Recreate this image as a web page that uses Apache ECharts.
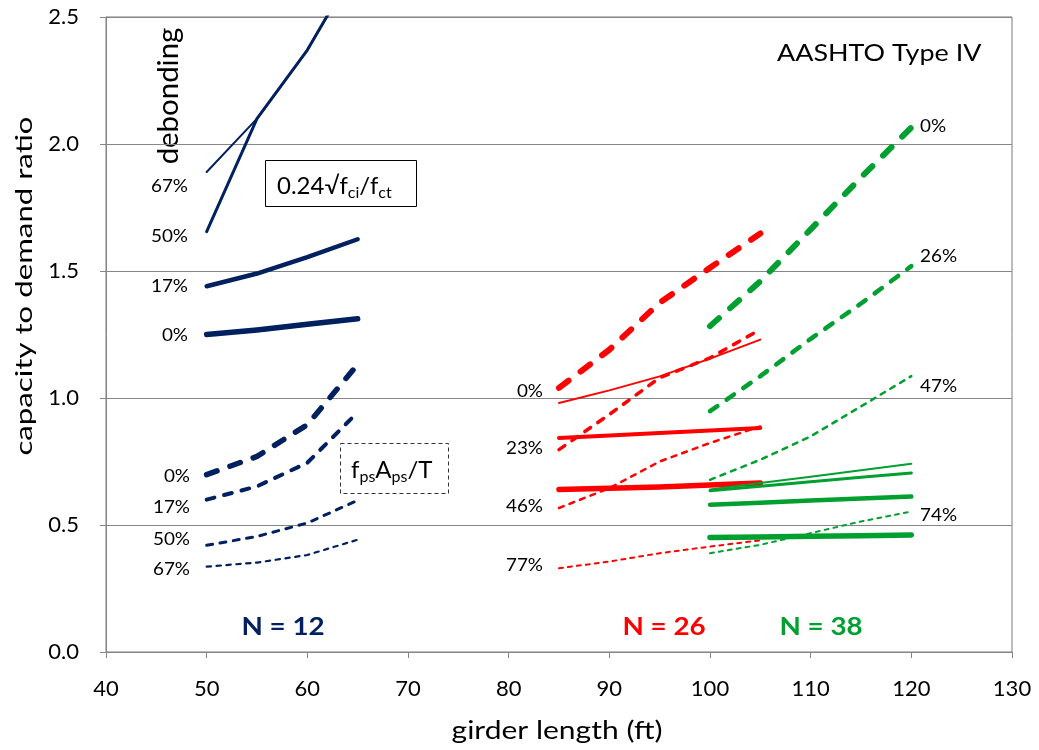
<!DOCTYPE html>
<html>
<head>
<meta charset="utf-8">
<title>capacity to demand ratio - AASHTO Type IV</title>
<script src="https://cdn.jsdelivr.net/npm/echarts@6/dist/echarts.min.js"></script>
<style>
  html, body { margin: 0; padding: 0; background: #fff; }
  #chart { width: 1039px; height: 750px; }
</style>
</head>
<body>
<div id="chart"></div>
<script>
// girder lengths (ft) of each group
const lenN12 = [50, 55, 60, 65];
const lenN26 = [85, 90, 95, 100, 105];
const lenN38 = [100, 105, 110, 115, 120];

// N = 12 : 0.24√fci/fct (solid), by debonding
const n12Stress67 = [1.89, 2.10, 2.37, 2.71];
const n12Stress50 = [1.655, 2.10, 2.37, 2.71];
const n12Stress17 = [1.44, 1.49, 1.555, 1.625];
const n12Stress0 = [1.25, 1.268, 1.29, 1.312];
// N = 12 : fpsAps/T (dashed)
const n12Tens0 = [0.698, 0.77, 0.895, 1.132];
const n12Tens17 = [0.60, 0.652, 0.745, 0.944];
const n12Tens50 = [0.42, 0.455, 0.508, 0.597];
const n12Tens67 = [0.336, 0.352, 0.382, 0.442];

// N = 26
const n26Stress46 = [0.98, 1.03, 1.085, 1.155, 1.23];
const n26Stress23 = [0.843, 0.852, 0.862, 0.872, 0.882];
const n26Stress0 = [0.64, 0.645, 0.65, 0.657, 0.665];
const n26Tens0 = [1.04, 1.19, 1.375, 1.513, 1.648];
const n26Tens23 = [0.797, 0.935, 1.08, 1.158, 1.27];
const n26Tens46 = [0.567, 0.645, 0.75, 0.823, 0.888];
const n26Tens77 = [0.33, 0.356, 0.389, 0.415, 0.44];

// N = 38
const n38Stress74 = [0.64, 0.665, 0.69, 0.716, 0.741];
const n38Stress47 = [0.635, 0.653, 0.67, 0.688, 0.705];
const n38Stress26 = [0.58, 0.588, 0.596, 0.604, 0.612];
const n38Stress0 = [0.451, 0.453, 0.456, 0.458, 0.461];
const n38Tens0 = [1.283, 1.46, 1.664, 1.868, 2.065];
const n38Tens26 = [0.948, 1.086, 1.233, 1.372, 1.519];
const n38Tens47 = [0.678, 0.757, 0.849, 0.967, 1.086];
const n38Tens74 = [0.389, 0.422, 0.468, 0.514, 0.553];

// axis ticks
const xTicks = { min: 40, max: 130, step: 10 };
const yTicks = { min: 0, max: 2.5, step: 0.5 };

// text labels
const pctNavyTop = ['67%', '50%', '17%', '0%'];
const pctNavyBot = ['0%', '17%', '50%', '67%'];
const pctRed = ['0%', '23%', '46%', '77%'];
const pctGreen = ['0%', '26%', '47%', '74%'];

const NAVY = '#002060';
const RED = '#FF0000';
const GREEN = '#00A030';
const FONT = 'Lato';

// line list: data + look
const lines = [
  { x: lenN12, y: n12Stress67, color: NAVY, w: 2 },
  { x: lenN12, y: n12Stress50, color: NAVY, w: 3 },
  { x: lenN12, y: n12Stress17, color: NAVY, w: 4.5 },
  { x: lenN12, y: n12Stress0, color: NAVY, w: 5.5 },
  { x: lenN12, y: n12Tens0, color: NAVY, w: 5.5, dash: true },
  { x: lenN12, y: n12Tens17, color: NAVY, w: 4, dash: true },
  { x: lenN12, y: n12Tens50, color: NAVY, w: 3, dash: true },
  { x: lenN12, y: n12Tens67, color: NAVY, w: 2.2, dash: true },

  { x: lenN26, y: n26Stress46, color: RED, w: 2 },
  { x: lenN26, y: n26Stress23, color: RED, w: 4 },
  { x: lenN26, y: n26Stress0, color: RED, w: 5.5 },
  { x: lenN26, y: n26Tens0, color: RED, w: 6, dash: true },
  { x: lenN26, y: n26Tens23, color: RED, w: 3.5, dash: true },
  { x: lenN26, y: n26Tens46, color: RED, w: 2.5, dash: true },
  { x: lenN26, y: n26Tens77, color: RED, w: 2, dash: true },

  { x: lenN38, y: n38Stress74, color: GREEN, w: 2 },
  { x: lenN38, y: n38Stress47, color: GREEN, w: 3 },
  { x: lenN38, y: n38Stress26, color: GREEN, w: 4.5 },
  { x: lenN38, y: n38Stress0, color: GREEN, w: 5.5 },
  { x: lenN38, y: n38Tens0, color: GREEN, w: 6, dash: true },
  { x: lenN38, y: n38Tens26, color: GREEN, w: 4.5, dash: true },
  { x: lenN38, y: n38Tens47, color: GREEN, w: 2.5, dash: true },
  { x: lenN38, y: n38Tens74, color: GREEN, w: 2, dash: true },
];

const series = lines.map(l => ({
  type: 'line',
  data: l.x.map((v, i) => [v, l.y[i]]),
  symbol: 'none',
  clip: true,
  silent: true,
  lineStyle: {
    color: l.color,
    width: l.w,
    type: l.dash ? [2 * l.w, 2.5 * l.w] : 'solid',
    cap: 'round',
    join: 'round'
  }
}));

// text helper, y = canvas "middle" line; sx stretches the text (reference uses a wide face)
const txt = (text, x, y, size, opts = {}) => ({
  type: 'text',
  x: x, y: y,
  rotation: opts.rot || 0,
  scaleX: opts.sx || 1,
  silent: true,
  style: {
    text: text,
    fill: opts.color || '#000',
    font: `${opts.bold ? 'bold ' : ''}${size}px ${FONT}`,
    textAlign: opts.align || 'left',
    textVerticalAlign: 'middle'
  }
});

// main text with subscripts, laid out with measured widths
const measure = document.createElement('canvas').getContext('2d');
function subText(parts, x0, baseline) {
  const out = [];
  let x = x0;
  parts.forEach(([s, sub]) => {
    const size = sub ? 16 : 24;
    measure.font = `${size}px ${FONT}`;
    const y = baseline + (sub ? 5 : 0) - 0.3 * size;
    out.push(txt(s, x, y, size));
    x += measure.measureText(s).width;
  });
  return out;
}

const graphic = [];
[186, 236, 286, 335].forEach((y, i) => graphic.push(txt(pctNavyTop[i], 188, y, 18, { align: 'right', sx: 1.05 })));
[476, 507, 539, 569].forEach((y, i) => graphic.push(txt(pctNavyBot[i], 190, y, 18, { align: 'right', sx: 1.05 })));
[391, 448, 506, 565].forEach((y, i) => graphic.push(txt(pctRed[i], 543, y, 18, { align: 'right', sx: 1.05 })));
[126, 256, 386, 515].forEach((y, i) => graphic.push(txt(pctGreen[i], 920, y, 18, { sx: 1.05 })));

graphic.push(txt('debonding', 169, 96, 28, { align: 'center', rot: Math.PI / 2, sx: 1.05 }));
graphic.push(txt('AASHTO Type IV', 777, 54, 23, { sx: 1.17 }));
graphic.push(txt('N = 12', 283, 627, 25, { align: 'center', bold: true, color: NAVY, sx: 1.11 }));
graphic.push(txt('N = 26', 664, 627, 25, { align: 'center', bold: true, color: RED, sx: 1.11 }));
graphic.push(txt('N = 38', 821, 627, 25, { align: 'center', bold: true, color: GREEN, sx: 1.11 }));

// axis titles
graphic.push(txt('girder length (ft)', 557, 731, 25, { align: 'center', sx: 1.2 }));
graphic.push(txt('capacity to demand ratio', 24, 286, 24, { align: 'center', rot: Math.PI / 2, sx: 1.3 }));

// boxes
graphic.push({
  type: 'rect', silent: true,
  shape: { x: 265.5, y: 160.5, width: 151, height: 46 },
  style: { fill: '#fff', stroke: '#000', lineWidth: 1 }
});
graphic.push(...subText([['0.24√f', false], ['ci', true], ['/f', false], ['ct', true]], 277, 193));
graphic.push({
  type: 'rect', silent: true,
  shape: { x: 340.5, y: 443.5, width: 108, height: 50 },
  style: { fill: '#fff', stroke: '#333', lineWidth: 1, lineDash: [4, 3] }
});
graphic.push(...subText([['f', false], ['ps', true], ['A', false], ['ps', true], ['/T', false]], 351, 477));

const axisGray = '#868686';
const chart = echarts.init(document.getElementById('chart'));
chart.setOption({
  animation: false,
  textStyle: { fontFamily: FONT },
  grid: {
    left: 106, right: 27, top: 17, bottom: 98,
    show: true, borderColor: '#7a7a7a', borderWidth: 1
  },
  xAxis: {
    type: 'value',
    min: xTicks.min, max: xTicks.max, interval: xTicks.step,
    axisLine: { lineStyle: { color: axisGray, width: 1 } },
    axisTick: { show: true, length: 6, lineStyle: { color: axisGray } },
    axisLabel: { fontSize: 22, color: '#000', margin: 26, fontFamily: FONT },
    splitLine: { show: false }
  },
  yAxis: {
    type: 'value',
    min: yTicks.min, max: yTicks.max, interval: yTicks.step,
    axisLine: { show: true, lineStyle: { color: axisGray, width: 1 } },
    axisTick: { show: true, length: 6, lineStyle: { color: axisGray } },
    axisLabel: {
      fontSize: 22, color: '#000', margin: 27, fontFamily: FONT,
      formatter: v => v.toFixed(1)
    },
    splitLine: { show: true, lineStyle: { color: axisGray, width: 1 } }
  },
  series: series,
  graphic: graphic
});
</script>
</body>
</html>
